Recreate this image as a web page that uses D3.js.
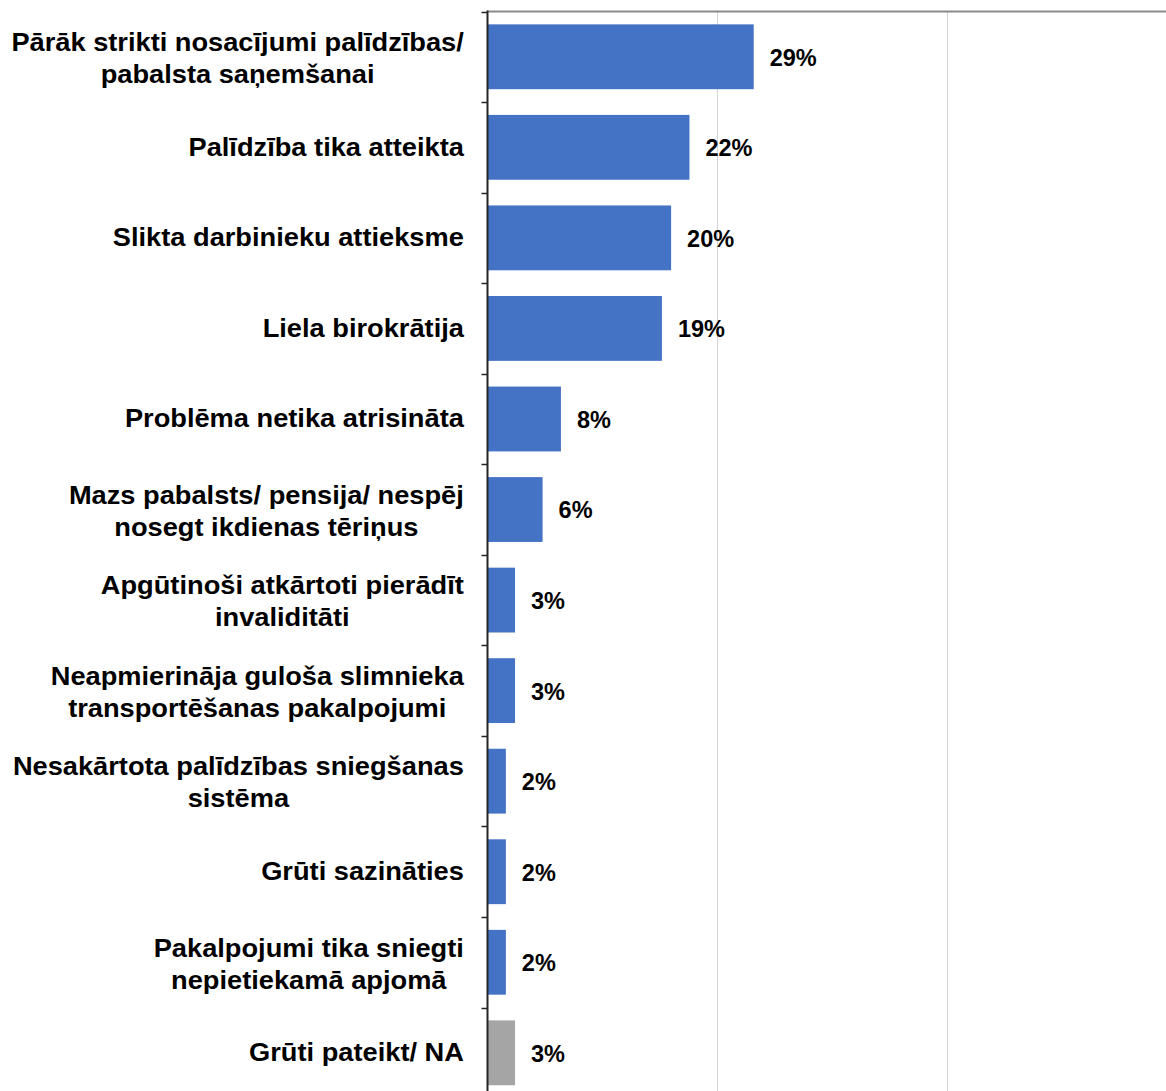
<!DOCTYPE html>
<html>
<head>
<meta charset="utf-8">
<script src="https://cdn.jsdelivr.net/npm/d3@7"></script>
<style>
  html, body { margin: 0; padding: 0; background: #fff; }
  svg { display: block; }
  text { font-family: "Liberation Sans", Arial, sans-serif; font-weight: bold; fill: #000; }
</style>
</head>
<body>
<svg id="chart" width="1166" height="1091"></svg>
<script>
// Reasons for dissatisfaction with received help (share of respondents)
const categories = [
  "Pārāk strikti nosacījumi palīdzības/\npabalsta saņemšanai",
  "Palīdzība tika atteikta",
  "Slikta darbinieku attieksme",
  "Liela birokrātija",
  "Problēma netika atrisināta",
  "Mazs pabalsts/ pensija/ nespēj\nnosegt ikdienas tēriņus",
  "Apgūtinoši atkārtoti pierādīt\ninvaliditāti",
  "Neapmierināja guloša slimnieka\ntransportēšanas pakalpojumi",
  "Nesakārtota palīdzības sniegšanas\nsistēma",
  "Grūti sazināties",
  "Pakalpojumi tika sniegti\nnepietiekamā apjomā",
  "Grūti pateikt/ NA"
];
const values = [0.29, 0.22, 0.20, 0.19, 0.08, 0.06, 0.03, 0.03, 0.02, 0.02, 0.02, 0.03];
const gridTicks = [0.25, 0.5];

const svg = d3.select("#chart");
const W = 1166, H = 1091;
const axisX = 487.5, topY = 11.5;

const x = d3.scaleLinear().domain([0, 0.75]).range([axisX, axisX + 688.5]);
const y = d3.scaleBand().domain(categories).range([topY, topY + 12 * 90.55])
  .paddingInner(0.284).paddingOuter(0.142);

// vertical gridlines
svg.append("g").selectAll("line").data(gridTicks).join("line")
  .attr("x1", d => Math.round(x(d)) + 0.5).attr("x2", d => Math.round(x(d)) + 0.5)
  .attr("y1", topY).attr("y2", H)
  .attr("stroke", "#d4d4d4").attr("stroke-width", 1);

// bars
svg.append("g").selectAll("rect").data(categories).join("rect")
  .attr("x", x(0))
  .attr("y", d => y(d))
  .attr("width", (d, i) => x(values[i]) - x(0))
  .attr("height", y.bandwidth())
  .attr("fill", (d, i) => i === categories.length - 1 ? "#A5A5A5" : "#4472C4");

// top border line
svg.append("line")
  .attr("x1", axisX).attr("x2", W).attr("y1", topY).attr("y2", topY)
  .attr("stroke", "#8a8a8a").attr("stroke-width", 2);

// category axis with ticks at band boundaries
const step = y.step();
const bounds = d3.range(categories.length + 1).map(i => topY + i * step);
const ax = svg.append("g");
ax.append("line")
  .attr("x1", axisX).attr("x2", axisX).attr("y1", topY - 1).attr("y2", H)
  .attr("stroke", "#262626").attr("stroke-width", 2);
ax.selectAll("line.tick").data(bounds).join("line").attr("class", "tick")
  .attr("x1", axisX - 6).attr("x2", axisX)
  .attr("y1", d => Math.round(d) + 0.5).attr("y2", d => Math.round(d) + 0.5)
  .attr("stroke", "#262626").attr("stroke-width", 1.5);

// category labels: centred lines, block right-aligned beside the axis
const labelRight = 464, fs = 25, lh = 32, stretch = 1.09;
categories.forEach(c => {
  const lines = c.split("\n");
  const cy = y(c) + y.bandwidth() / 2 + (lines.length > 1 ? 1.5 : -0.5);
  const t = svg.append("text").attr("font-size", fs).attr("text-anchor", "middle");
  lines.forEach((ln, k) => {
    t.append("tspan").text(ln).attr("x", 0)
      .attr("y", cy + (k - (lines.length - 1) / 2) * lh)
      .attr("dy", "0.35em");
  });
  let maxW = 0;
  t.selectAll("tspan").each(function () { maxW = Math.max(maxW, this.getComputedTextLength()); });
  t.attr("transform", `translate(${labelRight - maxW * stretch / 2},0) scale(${stretch},1)`);
});

// value labels
svg.append("g").selectAll("text").data(categories).join("text")
  .attr("x", (d, i) => x(values[i]) + 16)
  .attr("y", d => y(d) + y.bandwidth() / 2)
  .attr("dy", "0.38em")
  .attr("font-size", 23.5)
  .text((d, i) => Math.round(values[i] * 100) + "%");
</script>
</body>
</html>
